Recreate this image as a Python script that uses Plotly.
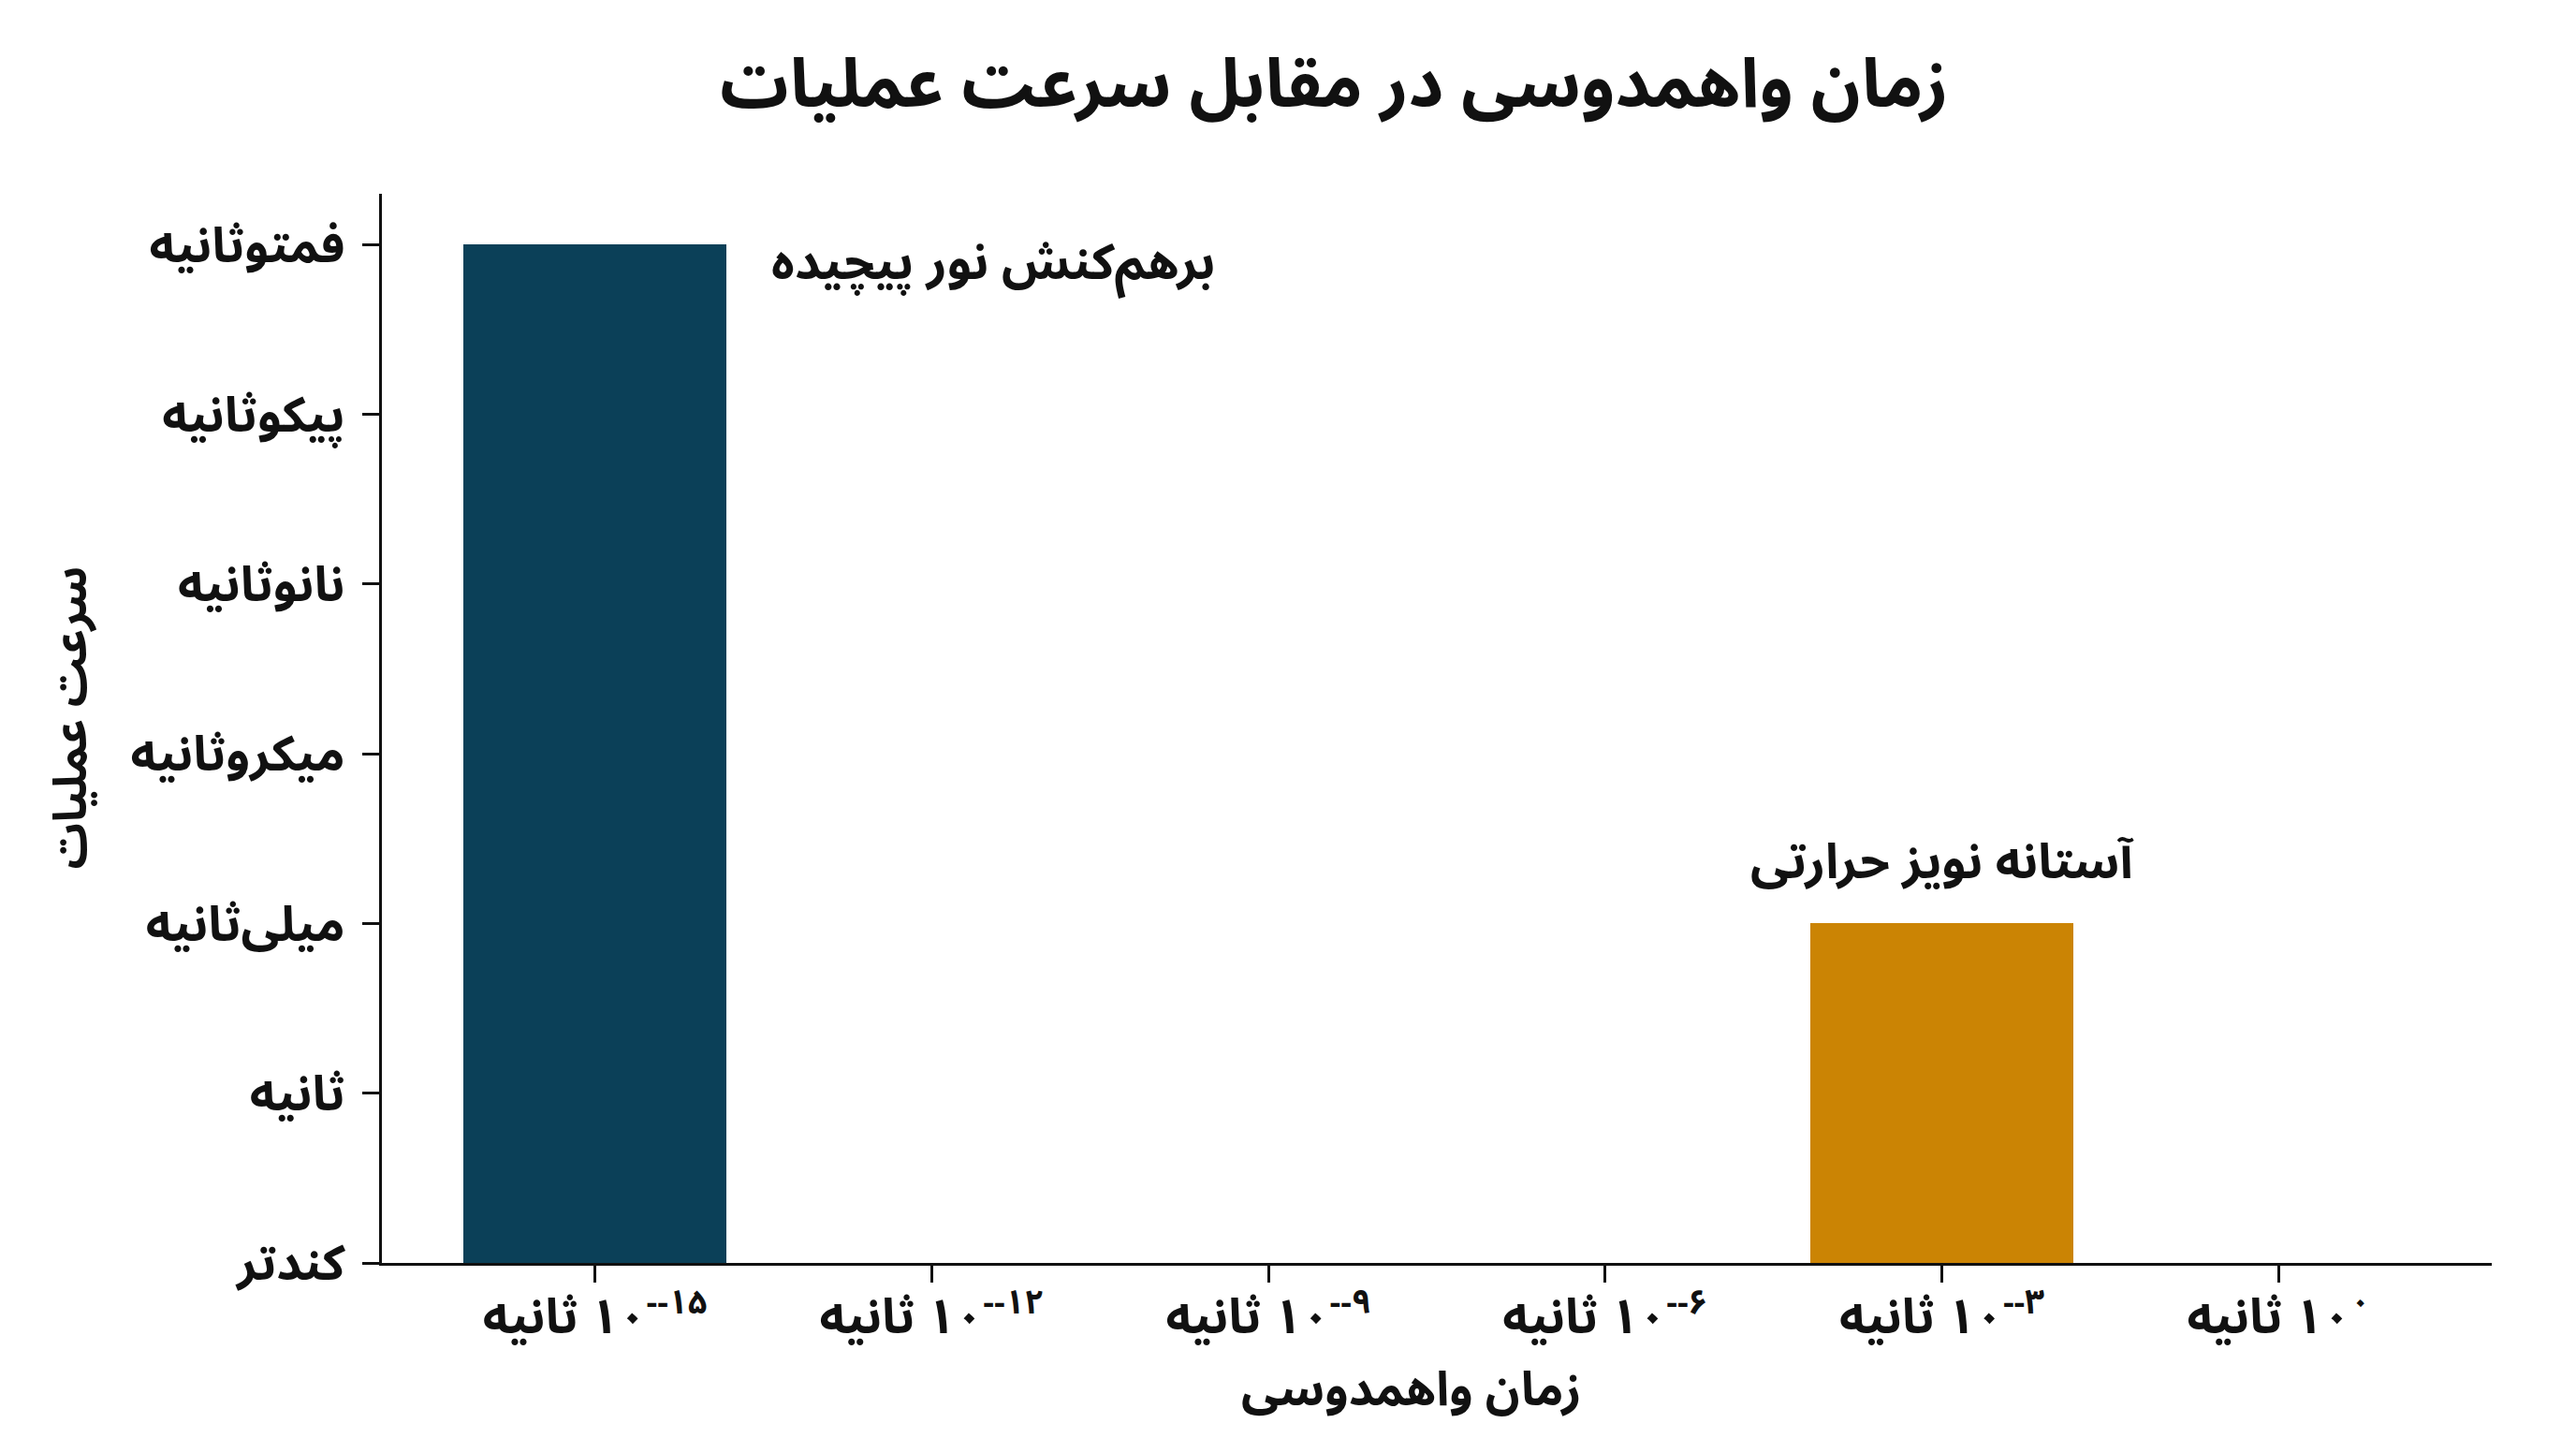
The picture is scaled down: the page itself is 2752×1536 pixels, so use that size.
import plotly.graph_objects as go

# time axis categories (decoherence time) and speed levels
time_labels = [
    "۱۰<sup>--۱۵</sup>",
    "۱۰<sup>--۱۲</sup>",
    "۱۰<sup>--۹</sup>",
    "۱۰<sup>--۶</sup>",
    "۱۰<sup>--۳</sup>",
    "۱۰<sup>۰</sup>",
]
time_unit = "ثانیه"
speed_labels = ["کندتر", "ثانیه", "میلی‌ثانیه", "میکروثانیه", "نانوثانیه", "پیکوثانیه", "فمتوثانیه"]

bar_x = [0, 4]
bar_values = [6, 2]
bar_colors = ["#0b4058", "#cb8404"]
bar_notes = ["برهم‌کنش نور پیچیده", "آستانه نویز حرارتی"]

FONT = "Noto Sans Arabic, DejaVu Sans"
INK = "#111111"
RLE, LRE, PDF = "\u202b", "\u202a", "\u202c"
BAR_W = 0.78

fig = go.Figure(go.Bar(
    x=bar_x, y=bar_values,
    width=BAR_W,
    marker=dict(color=bar_colors, line=dict(width=0)),
    hoverinfo="skip",
))

fig.add_annotation(
    x=bar_x[0] + BAR_W / 2, y=bar_values[0], xref="x", yref="y",
    text=bar_notes[0], showarrow=False,
    xanchor="left", yanchor="middle", xshift=46, yshift=-20,
    font=dict(family=FONT, size=53, color=INK, weight="bold"),
)
fig.add_annotation(
    x=bar_x[1], y=bar_values[1], xref="x", yref="y",
    text=bar_notes[1], showarrow=False,
    xanchor="center", yanchor="bottom", yshift=8,
    font=dict(family=FONT, size=52, color=INK, weight="bold"),
)

# axis titles as annotations so they can sit where the reference has them
fig.add_annotation(
    x=0.488, y=0, xref="paper", yref="paper", yshift=-136,
    text="زمان واهمدوسی", showarrow=False,
    xanchor="center", yanchor="middle",
    font=dict(family=FONT, size=51, color=INK, weight="bold"),
)
fig.add_annotation(
    x=0, y=0.51, xref="paper", yref="paper", xshift=-331,
    text="سرعت عملیات", showarrow=False, textangle=-90,
    xanchor="center", yanchor="middle",
    font=dict(family=FONT, size=49, color=INK, weight="bold"),
)

fig.update_layout(
    width=2752, height=1536,
    paper_bgcolor="white", plot_bgcolor="white",
    margin=dict(l=400, r=98, t=199, b=195),
    showlegend=False,
    bargap=0,
    title=dict(
        text="زمان واهمدوسی در مقابل سرعت عملیات",
        x=0.515, xanchor="center", y=1 - 80 / 1536, yanchor="middle",
        font=dict(family=FONT, size=73, color=INK, weight="bold"),
    ),
    font=dict(family=FONT, color=INK),
)

fig.update_xaxes(
    range=[-0.633, 5.633],
    tickmode="array",
    tickvals=list(range(len(time_labels))),
    ticktext=[RLE + LRE + t + PDF + " " + time_unit + PDF for t in time_labels],
    tickfont=dict(family=FONT, size=52, color=INK, weight="bold"),
    ticks="outside", ticklen=18, tickwidth=3, tickcolor=INK,
    ticklabelstandoff=-8,
    showline=True, linewidth=3, linecolor=INK,
    showgrid=False, zeroline=False,
)
fig.update_yaxes(
    range=[0, 6.3],
    tickmode="array",
    tickvals=list(range(len(speed_labels))),
    ticktext=speed_labels,
    tickfont=dict(family=FONT, size=52, color=INK, weight="bold"),
    ticks="outside", ticklen=18, tickwidth=3, tickcolor=INK,
    ticklabelstandoff=8,
    showline=True, linewidth=3, linecolor=INK,
    showgrid=False, zeroline=False,
)

fig.write_html("out.html")
